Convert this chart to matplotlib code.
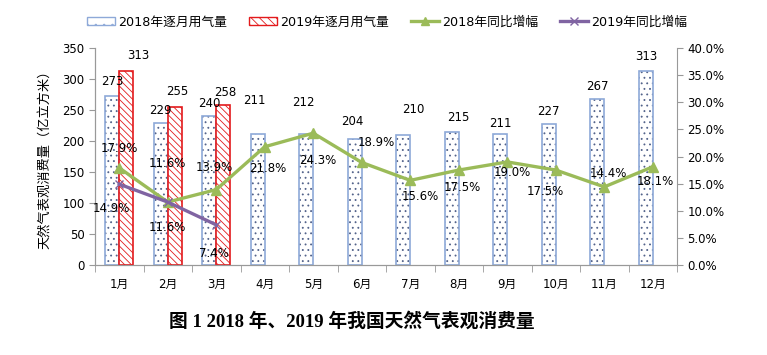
import matplotlib
matplotlib.use("Agg")
import matplotlib.pyplot as plt
import numpy as np

plt.rcParams['font.family'] = ['DejaVu Sans', 'Noto Sans CJK SC']
plt.rcParams['hatch.linewidth'] = 0.6

############## Daten ##############
months = ["1月", "2月", "3月", "4月", "5月", "6月", "7月", "8月", "9月", "10月", "11月", "12月"]
use_2018 = [273, 229, 240, 211, 212, 204, 210, 215, 211, 227, 267, 313]
use_2019 = [313, 255, 258]
growth_2018 = [17.9, 11.6, 13.9, 21.8, 24.3, 18.9, 15.6, 17.5, 19.0, 17.5, 14.4, 18.1]
growth_2019 = [14.9, 11.6, 7.4]

# Label-Verschiebungen in Pixeln (dx, dy)
off_bar_2018 = [(0, 14), (0, 13), (0, 13), (-3, 34), (-3, 31), (-3, 17), (10, 25), (6, 14),
                (0, 11), (0, 13), (0, 13), (0, 14)]
off_bar_2019 = [(12, 15), (3, 15), (2, 13)]
off_pct_2018 = [(0, 19), (0, 39), (-2, 22), (3, -22), (4, -27), (15, 20), (10, -16), (4, -17),
                (5, -11), (-10, -21), (4, 13), (3, -15)]
off_pct_2019 = [(-8, -24), (0, -25), (-2, -29)]

############## Darstellung ##############
fig = plt.figure(figsize=(7.67, 3.55), dpi=100)
ax = fig.add_axes([95 / 767, 1 - 265 / 355, (677 - 95) / 767, (265 - 48) / 355])
ax2 = ax.twinx()

x = np.arange(len(months))
x19 = np.arange(len(use_2019))
w = 0.285
c18 = "#8EA9D8"
c19 = "#E31A1C"
green = "#9BBB59"
purple = "#8064A2"

# Balken: erst Schraffur, dann Rahmen
ax.bar(x - w / 2, use_2018, w, color="white", edgecolor="#52628A", hatch="...", linewidth=0)
ax.bar(x - w / 2, use_2018, w, color="none", edgecolor=c18, linewidth=1.2)
ax.bar(x19 + w / 2, use_2019, w, color="white", edgecolor=c19, hatch="\\\\\\\\\\", linewidth=0)
ax.bar(x19 + w / 2, use_2019, w, color="none", edgecolor=c19, linewidth=1.2)

for i, v in enumerate(use_2018):
    ax.annotate(str(v), (x[i] - w / 2, v), xytext=off_bar_2018[i], textcoords="offset pixels",
                ha="center", va="center", fontsize=8.5)
for i, v in enumerate(use_2019):
    ax.annotate(str(v), (x19[i] + w / 2, v), xytext=off_bar_2019[i], textcoords="offset pixels",
                ha="center", va="center", fontsize=8.5)

g18 = np.array(growth_2018) / 100
g19 = np.array(growth_2019) / 100
ax2.plot(x, g18, color=green, lw=2.4, marker="^", ms=7, zorder=4)
ax2.plot(x19, g19, color=purple, lw=2.4, marker="x", ms=6, mew=1, zorder=4)
for i, v in enumerate(growth_2018):
    ax2.annotate(f"{v:.1f}%", (x[i], g18[i]), xytext=off_pct_2018[i], textcoords="offset pixels",
                 ha="center", va="center", fontsize=8.5, zorder=5)
for i, v in enumerate(growth_2019):
    ax2.annotate(f"{v:.1f}%", (x19[i], g19[i]), xytext=off_pct_2019[i], textcoords="offset pixels",
                 ha="center", va="center", fontsize=8.5, zorder=5)

# Achsen
ax.set_xlim(-0.5, len(months) - 0.5)
ax.set_ylim(0, 350)
ax.set_yticks(np.arange(0, 351, 50))
ax2.set_ylim(0, 0.4)
ax2.set_yticks(np.arange(0, 0.401, 0.05))
ax2.set_yticklabels([f"{t * 100:.1f}%" for t in np.arange(0, 0.401, 0.05)])

ax.set_xticks(x)
ax.set_xticklabels(months)
ax.set_xticks(np.arange(-0.5, len(months), 1), minor=True)
ax.tick_params(axis="x", which="major", length=0, pad=9, labelsize=8.5)
ax.tick_params(axis="x", which="minor", length=5, color="#999999", direction="out")
ax.tick_params(axis="y", length=4, color="#999999", labelsize=8.5)
ax2.tick_params(axis="y", length=4, color="#999999", labelsize=8.5)

for a in (ax, ax2):
    a.spines["top"].set_visible(False)
    for s in ("left", "right", "bottom"):
        a.spines[s].set_color("#999999")
ax.spines["right"].set_visible(False)

ax.set_ylabel("天然气表观消费量（亿立方米）", fontsize=9.5, family=["Noto Sans CJK SC"], labelpad=8)

# Legende
h1 = plt.Rectangle((0, 0), 1, 1, facecolor="white", edgecolor=c18, hatch="..")
h2 = plt.Rectangle((0, 0), 1, 1, facecolor="white", edgecolor=c19, hatch="\\\\\\\\")
h3, = ax.plot([], [], color=green, lw=2.4, marker="^", ms=6)
h4, = ax.plot([], [], color=purple, lw=2.4, marker="x", ms=6, mew=1)
fig.legend([h1, h2, h3, h4], ["2018年逐月用气量", "2019年逐月用气量", "2018年同比增幅", "2019年同比增幅"],
           loc="center left", bbox_to_anchor=(87 / 767, 1 - 22 / 355), ncol=4, frameon=False,
           fontsize=9.2, borderpad=0, borderaxespad=0,
           handlelength=2.2, handleheight=0.55, columnspacing=1.7, handletextpad=0.25)

fig.text(352 / 767, 1 - 321 / 355, "图 1 2018 年、2019 年我国天然气表观消费量", ha="center", va="center",
         fontsize=13.5, fontweight="bold", family=["Liberation Serif", "Noto Sans CJK SC"])

fig.savefig("out.png", dpi=100)
